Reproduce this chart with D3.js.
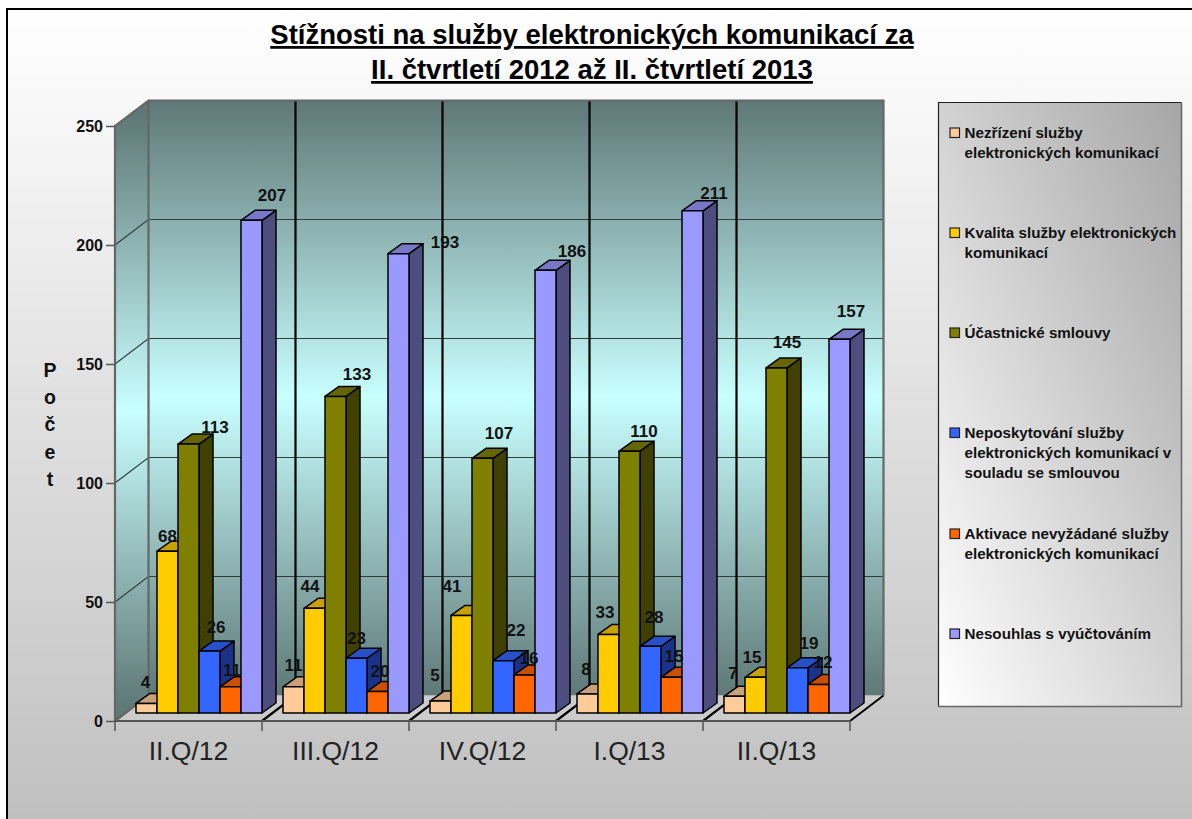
<!DOCTYPE html>
<html><head><meta charset="utf-8">
<script src="https://cdn.jsdelivr.net/npm/d3@7"></script>
<style>html,body{margin:0;padding:0;background:#fff;overflow:hidden}svg{display:block}text{font-family:"Liberation Sans",Arial,sans-serif}</style>
</head><body><div id="c"></div>
<script>
const categories = ["II.Q/12","III.Q/12","IV.Q/12","I.Q/13","II.Q/13"];
const seriesNames = ["Nezřízení služby elektronických komunikací","Kvalita služby elektronických komunikací","Účastnické smlouvy","Neposkytování služby elektronických komunikací v souladu se smlouvou","Aktivace nevyžádané služby elektronických komunikací","Nesouhlas s vyúčtováním"];
const nezrizeni = [4,11,5,8,7];
const kvalita = [68,44,41,33,15];
const ucastnicke = [113,133,107,110,145];
const neposkytovani = [26,23,22,28,19];
const aktivace = [11,9,16,15,12];      // bar heights as drawn (the second bar is shorter than its printed label)
const aktivaceLabels = [11,20,16,15,12];
const nesouhlas = [207,193,186,211,157];
const yTicks = [0,50,100,150,200,250];
const titleLines = ["Stížnosti na služby elektronických komunikací za","II. čtvrtletí 2012 až II. čtvrtletí 2013"];
const axisTitle = ["P","o","č","e","t"];

const seriesValues = [nezrizeni,kvalita,ucastnicke,neposkytovani,aktivace,nesouhlas];
const seriesLabels = [nezrizeni,kvalita,ucastnicke,neposkytovani,aktivaceLabels,nesouhlas];
const legendLines = [["Nezřízení služby","elektronických komunikací"],["Kvalita služby elektronických","komunikací"],["Účastnické smlouvy"],["Neposkytování služby","elektronických komunikací v","souladu se smlouvou"],["Aktivace nevyžádané služby","elektronických komunikací"],["Nesouhlas s vyúčtováním"]];
const fronts = ["#FFCC99","#FFCC00","#808000","#3366FF","#FF6600","#9999FF"];
const tops = ["#C9A077","#C8A000","#666600","#2850C8","#C85000","#7878C8"];
const sides = ["#806650","#806600","#404000","#1A3388","#803300","#4D4D80"];
// hand-placed label offsets from bar centre / bar top, [series][category]
const nudge = [
 [[-1,-21.5],[0,-22],[-5.5,-26],[-1.5,-25],[-1.5,-23]],
 [[0,-15],[-4.5,-22],[-9.5,-29],[-3.5,-22.5],[-3.5,-20]],
 [[26.5,-17],[21.5,-22],[16.5,-25],[14.5,-20],[10.5,-26]],
 [[6.5,-24],[0,-20],[12.5,-31],[3.5,-29],[11.5,-25]],
 [[1.5,-17],[2.5,-21],[4.5,-17],[2.5,-21],[4.5,-22]],
 [[20.5,-25],[46.5,-12],[26.5,-19],[21.5,-18],[11.5,-28]]
];

const W=1192,H=819;
const svg=d3.select("#c").append("svg").attr("width",W).attr("height",H);
const defs=svg.append("defs");
function grad(id,units,attrs,stops){const g=defs.append("linearGradient").attr("id",id).attr("gradientUnits",units);
 Object.entries(attrs).forEach(([k,v])=>g.attr(k,v));
 stops.forEach(([o,c])=>g.append("stop").attr("offset",o).attr("stop-color",c));}
grad("bg","userSpaceOnUse",{x1:0,y1:9,x2:0,y2:819},[[0,"#ffffff"],[1,"#c0c0c0"]]);
grad("wall","userSpaceOnUse",{x1:0,y1:100,x2:0,y2:696},[[0,"#5e7876"],[.5,"#c9ffff"],[1,"#5e7876"]]);
grad("swall","userSpaceOnUse",{x1:0,y1:113,x2:0,y2:708},[[0,"#5e7876"],[.5,"#c9ffff"],[1,"#5e7876"]]);
grad("leg","objectBoundingBox",{x1:0,y1:1,x2:1,y2:0},[[0,"#ffffff"],[1,"#a6a6a6"]]);

const x=d3.scaleBand().domain(categories).range([115,850]).padding(0);
const y=d3.scaleLinear().domain([0,250]).range([721,126]);
const inner=d3.scaleBand().domain(d3.range(6)).range([21,147]).padding(0);
const backDx=33.5, backDy=25.5, barDx=14, barDy=10, barLift=8;

svg.append("rect").attr("x",7).attr("y",9).attr("width",W).attr("height",H).attr("fill","url(#bg)");
svg.append("path").attr("d",`M7 ${H}V9H${W}`).attr("fill","none").attr("stroke","#000").attr("stroke-width",2);

// title
svg.append("g").selectAll("text").data(titleLines).join("text")
 .attr("x",592).attr("y",(d,i)=>44+i*35).attr("text-anchor","middle")
 .attr("font-size",27.5).attr("font-weight","bold").attr("text-decoration","underline").attr("fill","#000").text(d=>d);

// walls
const xL=x.range()[0], xR=x.range()[1], y0=y(0), yT=y(250);
svg.append("path").attr("d",`M${xL} ${yT}L${xL+backDx} ${yT-backDy}V${y0-backDy}L${xL} ${y0}Z`).attr("fill","url(#swall)");
svg.append("rect").attr("x",xL+backDx).attr("y",yT-backDy).attr("width",xR-xL).attr("height",y0-yT).attr("fill","url(#wall)");
// floor
svg.append("path").attr("d",`M${xL} ${y0}L${xL+backDx} ${y0-backDy}H${xR+backDx}L${xR} ${y0}Z`).attr("fill","#cccccc");
// grid
const grid=svg.append("g").attr("fill","none").attr("stroke","#2f3f3e").attr("stroke-width",1.2);
yTicks.filter(t=>t>0&&t<250).forEach(t=>{
 grid.append("path").attr("d",`M${xL} ${y(t)}L${xL+backDx} ${y(t)-backDy}H${xR+backDx}`);
});
// category separators on the back wall and floor
const seps=categories.slice(1).map(c=>x(c));
svg.append("g").selectAll("path").data(seps).join("path").attr("fill","none").attr("stroke","#000").attr("stroke-width",2.2)
 .attr("d",d=>`M${d+backDx} ${yT-backDy}V${y0-backDy}L${d} ${y0}`);
// wall edges
const edge=svg.append("g").attr("fill","none").attr("stroke","#666").attr("stroke-width",2.2);
edge.append("path").attr("d",`M${xL} ${y0}V${yT}L${xL+backDx} ${yT-backDy}H${xR+backDx}V${y0-backDy}`);
edge.append("path").attr("d",`M${xL+backDx} ${yT-backDy}V${y0-backDy}L${xL} ${y0}`);
svg.append("path").attr("d",`M${xR} ${y0}L${xR+backDx} ${y0-backDy}`).attr("fill","none").attr("stroke","#000").attr("stroke-width",2);
svg.append("path").attr("d",`M${xL} ${y0}H${xR}`).attr("stroke","#555").attr("stroke-width",2);

// bars
const bars=svg.append("g").attr("stroke","#000").attr("stroke-width",1.5).attr("stroke-linejoin","round");
const bw=inner.bandwidth();
categories.forEach((c,ci)=>{
 seriesValues.forEach((vals,si)=>{
  const bx=x(c)+inner(si), by=y(vals[ci])-barLift, base=y(0)-barLift;
  bars.append("path").attr("fill",sides[si]).attr("d",`M${bx+bw} ${by}L${bx+bw+barDx} ${by-barDy}V${base-barDy}L${bx+bw} ${base}Z`);
  bars.append("path").attr("fill",tops[si]).attr("d",`M${bx} ${by}L${bx+barDx} ${by-barDy}H${bx+bw+barDx}L${bx+bw} ${by}Z`);
  bars.append("rect").attr("fill",fronts[si]).attr("x",bx).attr("y",by).attr("width",bw).attr("height",base-by);
 });
});
// labels
const lab=svg.append("g").attr("font-size",17).attr("font-weight","bold").attr("fill","#111").attr("text-anchor","middle");
categories.forEach((c,ci)=>{
 seriesValues.forEach((vals,si)=>{
  const bx=x(c)+inner(si)+bw/2, by=y(vals[ci])-barLift;
  lab.append("text").attr("x",bx+nudge[si][ci][0]).attr("y",by+nudge[si][ci][1]+6).text(seriesLabels[si][ci]);
 });
});

// y axis
const ay=svg.append("g").attr("transform",`translate(${xL},0)`).call(d3.axisLeft(y).tickValues(yTicks).tickSize(9).tickPadding(3));
ay.select(".domain").remove();
ay.selectAll("line").attr("stroke","#555").attr("stroke-width",1.5);
ay.selectAll("text").attr("font-size",16).attr("font-weight","bold").attr("fill","#111").style("font-family",'"Liberation Sans",Arial,sans-serif');
// x axis
const ax=svg.append("g").attr("transform",`translate(0,${y0})`).call(d3.axisBottom(x).tickSize(0).tickPadding(0));
ax.select(".domain").remove();
ax.selectAll("text").attr("font-size",26.5).attr("fill","#222").attr("dy",null).attr("y",39).style("font-family",'"Liberation Sans",Arial,sans-serif');
svg.append("g").selectAll("line").data(categories.map(c=>x(c)).concat([xR])).join("line")
 .attr("x1",d=>d).attr("x2",d=>d).attr("y1",y0).attr("y2",y0+10).attr("stroke","#555").attr("stroke-width",1.5);

// axis title
svg.append("g").selectAll("text").data(axisTitle).join("text").attr("x",50).attr("y",(d,i)=>376.5+i*27.4)
 .attr("text-anchor","middle").attr("font-size",19.5).attr("font-weight","bold").attr("fill","#111").text(d=>d);

// legend
const lx=938.5,ly=102.5,lw=243,lh=604;
svg.append("rect").attr("x",lx).attr("y",ly).attr("width",lw).attr("height",lh).attr("fill","url(#leg)");
svg.append("path").attr("d",`M${lx} ${ly+lh}V${ly}H${lx+lw}`).attr("fill","none").attr("stroke","#222").attr("stroke-width",1.2);
svg.append("path").attr("d",`M${lx} ${ly+lh}H${lx+lw}V${ly}`).attr("fill","none").attr("stroke","#666").attr("stroke-width",1.5);
const firstLine=[133,233,333,433,534,634];
const leg=svg.append("g");
seriesNames.forEach((n,i)=>{
 leg.append("rect").attr("x",950).attr("y",firstLine[i]-5).attr("width",9.5).attr("height",9.5).attr("fill",fronts[i]).attr("stroke","#222").attr("stroke-width",1.2);
 legendLines[i].forEach((t,k)=>leg.append("text").attr("x",964.5).attr("y",firstLine[i]+5+k*19.8)
   .attr("font-size",15.2).attr("font-weight","bold").attr("fill","#111").text(t));
});
</script></body></html>
